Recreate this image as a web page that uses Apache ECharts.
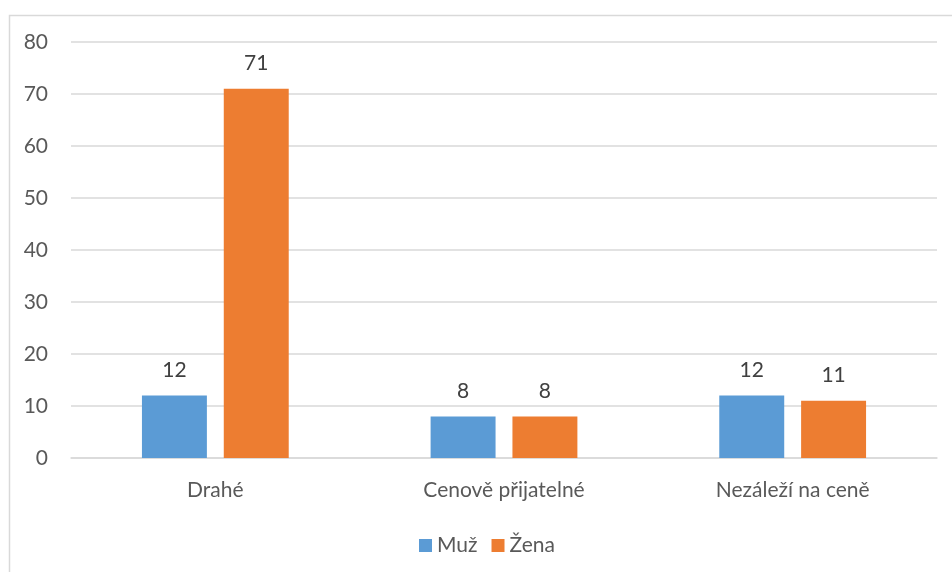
<!DOCTYPE html>
<html><head><meta charset="utf-8">
<script src="https://cdn.jsdelivr.net/npm/echarts@6/dist/echarts.min.js"></script>
<style>html,body{margin:0;padding:0;background:#fff}#c{width:952px;height:572px}</style>
</head><body><div id="c"></div>
<script>
const categories = ['Drahé', 'Cenově přijatelné', 'Nezáleží na ceně'];
const muz = [12, 8, 12];
const zena = [71, 8, 11];
const yTicks = [0, 10, 20, 30, 40, 50, 60, 70, 80];

const font = 'Lato, "Open Sans", sans-serif';
const fs = 21;
const chart = echarts.init(document.getElementById('c'));
chart.setOption({
  animation: false,
  backgroundColor: '#fff',
  textStyle: { fontFamily: font },
  graphic: [{
    type: 'rect', left: 7, top: 13, shape: { width: 960, height: 580 },
    style: { fill: 'none', stroke: '#d9d9d9', lineWidth: 1.5 }, silent: true
  }],
  grid: { left: 71, right: 15, top: 42, bottom: 114, containLabel: false },
  legend: {
    left: 414, top: 530, itemWidth: 13, itemHeight: 13, itemGap: 14,
    icon: 'rect',
    textStyle: { fontFamily: font, fontSize: fs, color: '#595959' },
    data: ['Muž', 'Žena']
  },
  xAxis: {
    type: 'category', data: categories,
    axisLine: { show: true, lineStyle: { color: '#d9d9d9', width: 1.5 } },
    axisTick: { show: false },
    axisLabel: { fontFamily: font, fontSize: fs, color: '#595959', margin: 22 }
  },
  yAxis: {
    type: 'value', min: yTicks[0], max: yTicks[yTicks.length - 1], interval: 10,
    axisLine: { show: false }, axisTick: { show: false },
    axisLabel: { fontFamily: font, fontSize: fs, color: '#595959', margin: 23 },
    splitLine: { lineStyle: { color: '#d9d9d9', width: 1.5 } }
  },
  series: [
    {
      name: 'Muž', type: 'bar', data: muz, barWidth: '22.5%', barGap: '26%',
      itemStyle: { color: '#5B9BD5' },
      label: { show: true, position: 'top', distance: 15, fontFamily: font, fontSize: fs, color: '#404040' }
    },
    {
      name: 'Žena', type: 'bar', data: zena, barWidth: '22.5%',
      itemStyle: { color: '#ED7D31' },
      label: { show: true, position: 'top', distance: 15, fontFamily: font, fontSize: fs, color: '#404040' }
    }
  ]
});
</script></body></html>
